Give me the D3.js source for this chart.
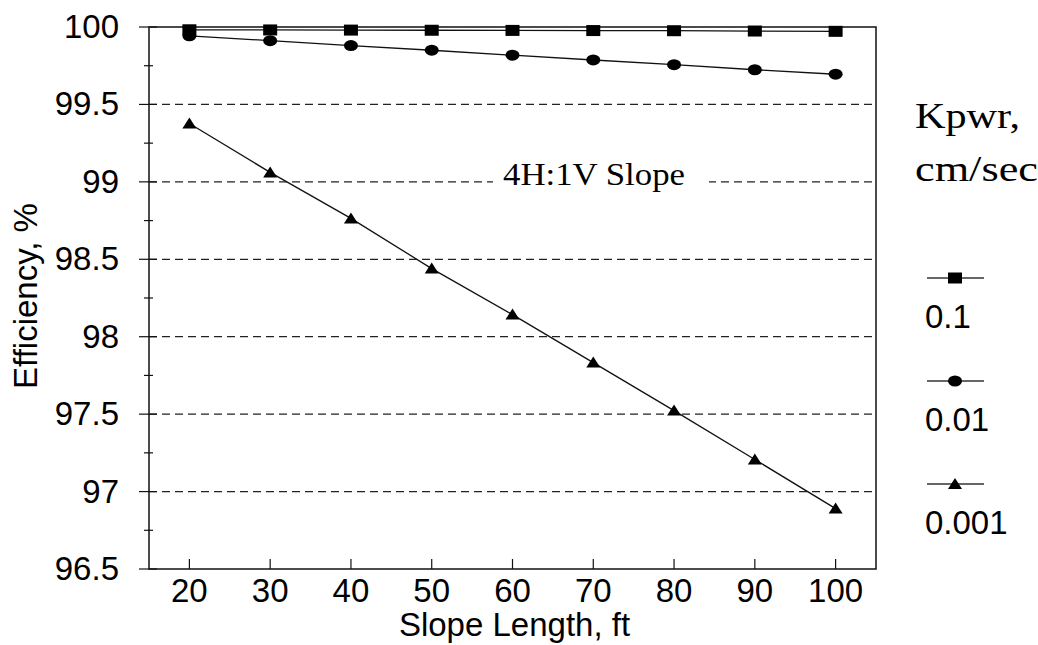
<!DOCTYPE html>
<html>
<head>
<meta charset="utf-8">
<script src="https://cdn.jsdelivr.net/npm/d3@7"></script>
<style>
  body { margin: 0; background: #fff; }
  svg { display: block; }
</style>
</head>
<body>
<div id="chart"></div>
<script>
// data
var slopeLength = [20, 30, 40, 50, 60, 70, 80, 90, 100];
var kpwr01   = [99.982, 99.981, 99.980, 99.979, 99.978, 99.977, 99.976, 99.974, 99.972];
var kpwr001  = [99.943, 99.912, 99.880, 99.850, 99.818, 99.787, 99.757, 99.724, 99.695];
var kpwr0001 = [99.377, 99.061, 98.764, 98.440, 98.143, 97.833, 97.523, 97.207, 96.890];
var seriesNames = ['0.1', '0.01', '0.001'];
var seriesShapes = ['square', 'circle', 'triangle'];
var yTicks = [96.5, 97, 97.5, 98, 98.5, 99, 99.5, 100];
var yMinor = [96.75, 97.25, 97.75, 98.25, 98.75, 99.25, 99.75];
var gridVals = [97, 97.5, 98, 98.5, 99, 99.5];

var W = 1038, H = 645;
var margin = {top: 27, right: 162, bottom: 76, left: 149};
var sans = '"Liberation Sans", Arial, sans-serif';
var serif = '"Liberation Serif", "Times New Roman", serif';

var svg = d3.select('#chart').append('svg')
  .attr('width', W)
  .attr('height', H);

var x = d3.scaleLinear().domain([15, 105]).range([margin.left, W - margin.right]);
var y = d3.scaleLinear().domain([96.5, 100]).range([H - margin.bottom, margin.top]);

var series = [kpwr01, kpwr001, kpwr0001].map(function(vals, i) {
  return {
    name: seriesNames[i],
    shape: seriesShapes[i],
    points: vals.map(function(v, j) { return {x: slopeLength[j], y: v}; })
  };
});

// dashed gridlines
svg.append('g').selectAll('line')
  .data(gridVals)
  .enter().append('line')
  .attr('x1', x(15)).attr('x2', x(105))
  .attr('y1', function(d) { return y(d); })
  .attr('y2', function(d) { return y(d); })
  .style('stroke', '#222')
  .style('stroke-width', 1.2)
  .style('stroke-dasharray', '8,5');

// frame
svg.append('rect')
  .attr('x', x(15)).attr('y', y(100))
  .attr('width', x(105) - x(15))
  .attr('height', y(96.5) - y(100))
  .style('fill', 'none')
  .style('stroke', '#111')
  .style('stroke-width', 1.5);

// y axis ticks
svg.append('g').selectAll('line')
  .data(yTicks)
  .enter().append('line')
  .attr('x1', x(15) - 10).attr('x2', x(15) + 8)
  .attr('y1', function(d) { return y(d); })
  .attr('y2', function(d) { return y(d); })
  .style('stroke', '#111')
  .style('stroke-width', 1.2);

svg.append('g').selectAll('line')
  .data(yMinor)
  .enter().append('line')
  .attr('x1', x(15) - 5).attr('x2', x(15) + 4)
  .attr('y1', function(d) { return y(d); })
  .attr('y2', function(d) { return y(d); })
  .style('stroke', '#111')
  .style('stroke-width', 1.2);

svg.append('g').selectAll('text')
  .data(yTicks)
  .enter().append('text')
  .attr('x', 119)
  .attr('y', function(d) { return y(d) + 11; })
  .attr('text-anchor', 'end')
  .style('font-family', sans)
  .style('font-size', '33px')
  .text(function(d) { return d; });

// x axis ticks
svg.append('g').selectAll('line')
  .data(slopeLength)
  .enter().append('line')
  .attr('x1', function(d) { return x(d); })
  .attr('x2', function(d) { return x(d); })
  .attr('y1', y(96.5)).attr('y2', y(96.5) - 10)
  .style('stroke', '#111')
  .style('stroke-width', 1.2);

svg.append('g').selectAll('text')
  .data(slopeLength)
  .enter().append('text')
  .attr('x', function(d) { return x(d); })
  .attr('y', 602)
  .attr('text-anchor', 'middle')
  .style('font-family', sans)
  .style('font-size', '33px')
  .text(function(d) { return d; });

// axis titles
svg.append('text')
  .attr('x', (x(15) + x(105)) / 2 + 2)
  .attr('y', 636)
  .attr('text-anchor', 'middle')
  .style('font-family', sans)
  .style('font-size', '33px')
  .text('Slope Length, ft');

svg.append('text')
  .attr('transform', 'translate(37,296) rotate(-90)')
  .attr('text-anchor', 'middle')
  .style('font-family', sans)
  .style('font-size', '33px')
  .text('Efficiency, %');

// annotation, with a white box hiding the gridline behind it
var note = svg.append('g');
var noteBox = note.append('rect').style('fill', '#fff');
var noteText = note.append('text')
  .attr('x', 594)
  .attr('y', 185)
  .attr('text-anchor', 'middle')
  .style('font-family', serif)
  .style('font-size', '31px')
  .attr('textLength', 182)
  .attr('lengthAdjust', 'spacingAndGlyphs')
  .text('4H:1V Slope');
var bb = noteText.node().getBBox();
noteBox.attr('x', bb.x - 10).attr('y', bb.y).attr('width', bb.width + 34).attr('height', bb.height);

// markers
function drawMarker(g, shape, cx, cy) {
  if (shape === 'square') {
    g.append('rect')
      .attr('x', cx - 7).attr('y', cy - 5.5)
      .attr('width', 14).attr('height', 11)
      .style('fill', '#000');
  } else if (shape === 'circle') {
    g.append('ellipse')
      .attr('cx', cx).attr('cy', cy)
      .attr('rx', 7).attr('ry', 5.5)
      .style('fill', '#000');
  } else {
    g.append('path')
      .attr('d', 'M' + cx + ',' + (cy - 6) + 'L' + (cx + 7) + ',' + (cy + 5) + 'L' + (cx - 7) + ',' + (cy + 5) + 'Z')
      .style('fill', '#000');
  }
}

var line = d3.line()
  .x(function(d) { return x(d.x); })
  .y(function(d) { return y(d.y); });

var plot = svg.append('g');
series.forEach(function(s) {
  plot.append('path')
    .datum(s.points)
    .attr('d', line)
    .style('fill', 'none')
    .style('stroke', '#111')
    .style('stroke-width', 1.3);
  var mg = plot.append('g');
  s.points.forEach(function(p) {
    drawMarker(mg, s.shape, x(p.x), y(p.y));
  });
});

// legend
svg.append('text')
  .attr('x', 915).attr('y', 128)
  .style('font-family', serif)
  .style('font-size', '35px')
  .attr('textLength', 105)
  .attr('lengthAdjust', 'spacingAndGlyphs')
  .text('Kpwr,');
svg.append('text')
  .attr('x', 915).attr('y', 181)
  .style('font-family', serif)
  .style('font-size', '35px')
  .attr('textLength', 123)
  .attr('lengthAdjust', 'spacingAndGlyphs')
  .text('cm/sec');

var legendY = [278, 381, 484];
series.forEach(function(s, i) {
  var g = svg.append('g');
  g.append('line')
    .attr('x1', 927).attr('x2', 984)
    .attr('y1', legendY[i]).attr('y2', legendY[i])
    .style('stroke', '#333')
    .style('stroke-width', 1.3);
  drawMarker(g, s.shape, 955, legendY[i]);
  g.append('text')
    .attr('x', 925).attr('y', legendY[i] + 50)
    .style('font-family', sans)
    .style('font-size', '33px')
    .text(s.name);
});
</script>
</body>
</html>
